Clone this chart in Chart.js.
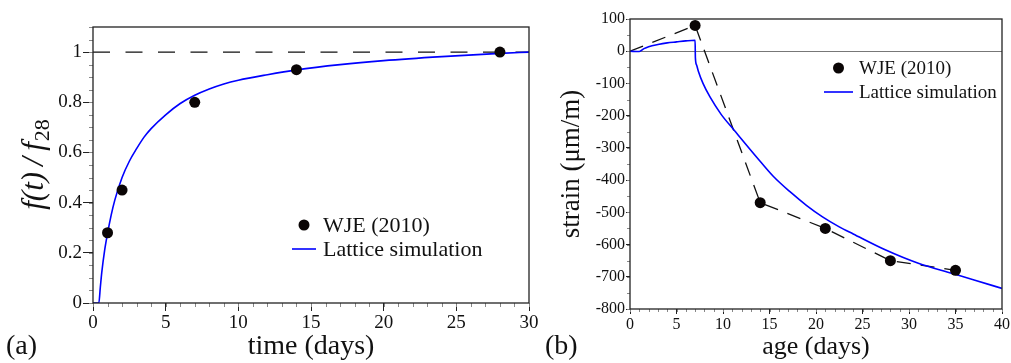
<!DOCTYPE html>
<html>
<head>
<meta charset="utf-8">
<script src="https://cdn.jsdelivr.net/npm/chart.js@4.4.1/dist/chart.umd.min.js"></script>
<style>
  body { margin: 0; background: #fff; }
  #wrap { position: relative; width: 1011px; height: 363px; }
  canvas { position: absolute; top: 0; }
  .tag { position: absolute; font: 28px "Liberation Serif", serif; color: #111; }
</style>
</head>
<body>
<div id="wrap">
  <canvas id="chartA" width="540" height="363" style="left:0"></canvas>
  <canvas id="chartB" width="471" height="363" style="left:540px"></canvas>
  <div class="tag" style="left:6px;top:329px">(a)</div>
  <div class="tag" style="left:545px;top:329px">(b)</div>
</div>
<script>
// (a) strength development
const timeDays = [0, 0.4, 0.5, 0.6, 0.8, 1, 1.25, 1.5, 2, 2.5, 3, 3.5, 4, 5, 6, 7, 8, 9, 10, 12, 14, 17, 20, 24, 28, 30];
const strengthRatio = [0, 0, 0.06, 0.12, 0.21, 0.277, 0.35, 0.41, 0.5, 0.565, 0.615, 0.66, 0.695, 0.75, 0.795, 0.828, 0.853, 0.873, 0.888, 0.91, 0.929, 0.95, 0.966, 0.982, 0.995, 1.0];
const wjeTime = [1, 2, 7, 14, 28];
const wjeRatio = [0.28, 0.45, 0.8, 0.93, 1.0];
const refTime = [0, 30];
const refRatio = [1, 1];

// (b) strain history
const simAge = [0, 1, 1.5, 2, 3, 4, 5, 6, 7, 7.03, 7.15, 7.35, 7.85, 8.6, 9.8, 11.2, 13.6, 15.4, 17.2, 19, 20.7, 22.5, 24, 27.5, 31, 34.7, 37, 40];
const simStrain = [0, -1, 8, 14, 21, 26, 29, 32, 34, -20, -42, -62, -100, -142, -196, -245, -328, -388, -436, -479, -514, -545, -567, -617, -658, -690, -710, -736];
const wjeAge = [7, 14, 21, 28, 35];
const wjeStrain = [80, -470, -550, -650, -680];
const dashAge = [0].concat(wjeAge);
const dashStrain = [0].concat(wjeStrain);

const serif = '"Liberation Serif", serif';
const pts = (xs, ys) => xs.map((x, i) => ({x: x, y: ys[i]}));

const framePlugin = {
  id: 'frame',
  afterDraw(chart) {
    const {ctx, chartArea: a} = chart;
    ctx.save();
    ctx.strokeStyle = '#222';
    ctx.lineWidth = 1.3;
    ctx.strokeRect(a.left, a.top, a.right - a.left, a.bottom - a.top);
    ctx.restore();
  }
};

const minorTicks = {
  id: 'minorTicks',
  afterDraw(chart, args, opts) {
    const {ctx, chartArea: a, scales} = chart;
    ctx.save();
    ctx.strokeStyle = '#888';
    ctx.lineWidth = 1;
    const xs = scales.x, ys = scales.y;
    const nx = Math.round((xs.max - xs.min) / opts.x);
    for (let i = 0; i <= nx; i++) {
      const px = Math.round(xs.getPixelForValue(xs.min + i * opts.x)) + 0.5;
      ctx.beginPath(); ctx.moveTo(px, a.bottom); ctx.lineTo(px, a.bottom + opts.len); ctx.stroke();
    }
    const ny = Math.round((ys.max - ys.min) / opts.y);
    for (let i = 0; i <= ny; i++) {
      const py = Math.round(ys.getPixelForValue(ys.min + i * opts.y)) + 0.5;
      ctx.beginPath(); ctx.moveTo(a.left, py); ctx.lineTo(a.left - opts.len, py); ctx.stroke();
    }
    ctx.restore();
  }
};

const insideLegend = {
  id: 'insideLegend',
  afterDraw(chart, args, opts) {
    if (!opts.items) return;
    const {ctx, chartArea: a} = chart;
    const x0 = a.left + opts.left;
    ctx.save();
    ctx.font = opts.font;
    ctx.textBaseline = 'middle';
    opts.items.forEach((idx, row) => {
      const ds = chart.data.datasets[idx];
      const y = a.top + opts.top + row * opts.rowGap;
      if (ds.showLine === false) {
        ctx.fillStyle = ds.backgroundColor;
        ctx.beginPath();
        ctx.arc(x0 + opts.symWidth / 2, y, ds.pointRadius, 0, Math.PI * 2);
        ctx.fill();
      } else {
        ctx.strokeStyle = ds.borderColor;
        ctx.lineWidth = ds.borderWidth;
        ctx.beginPath(); ctx.moveTo(x0, y); ctx.lineTo(x0 + opts.symWidth, y); ctx.stroke();
      }
      ctx.fillStyle = '#111';
      ctx.fillText(ds.label, x0 + opts.symWidth + opts.textGap, y + 1);
    });
    ctx.restore();
  }
};

const subTitle = {
  id: 'subTitle',
  afterDraw(chart, args, opts) {
    if (!opts.text) return;
    const {ctx, chartArea: a} = chart;
    ctx.save();
    ctx.translate(opts.x, (a.top + a.bottom) / 2);
    ctx.rotate(-Math.PI / 2);
    ctx.fillStyle = '#111';
    ctx.textBaseline = 'middle';
    ctx.font = 'italic ' + opts.size + 'px ' + serif;
    const w1 = ctx.measureText(opts.text).width;
    ctx.font = opts.subSize + 'px ' + serif;
    const w2 = ctx.measureText(opts.sub).width;
    const start = -(w1 + w2) / 2;
    ctx.font = 'italic ' + opts.size + 'px ' + serif;
    ctx.fillText(opts.text, start, 0);
    ctx.font = opts.subSize + 'px ' + serif;
    ctx.fillText(opts.sub, start + w1 + 1, opts.size * 0.28);
    ctx.restore();
  }
};

function axis(min, max, step, size, tickLen, fit, title) {
  return {
    type: 'linear', min: min, max: max,
    border: {display: false},
    grid: {drawOnChartArea: false, tickLength: tickLen, tickColor: '#222'},
    ticks: {
      stepSize: step, autoSkip: false, maxRotation: 0, padding: 1, color: '#111',
      font: {family: serif, size: size},
      callback: v => String(Number(v.toFixed(2)))
    },
    title: title,
    afterFit: fit
  };
}

const chartA = new Chart(document.getElementById('chartA'), {
  type: 'scatter',
  data: {
    datasets: [{
      label: 'WJE (2010)',
      data: pts(wjeTime, wjeRatio),
      showLine: false,
      pointRadius: 5.5,
      backgroundColor: '#0a0505',
      borderWidth: 0,
      order: 0
    }, {
      label: 'Lattice simulation',
      data: pts(timeDays, strengthRatio),
      showLine: true,
      borderColor: '#0000ff',
      borderWidth: 1.6,
      pointRadius: 0,
      cubicInterpolationMode: 'monotone',
      order: 1
    }, {
      label: 'reference',
      data: pts(refTime, refRatio),
      showLine: true,
      borderColor: '#111',
      borderWidth: 1.3,
      borderDash: [17, 15.5],
      pointRadius: 0,
      order: 2
    }]
  },
  options: {
    responsive: false,
    animation: false,
    layout: {padding: {left: 0, right: 11, top: 27, bottom: 0}},
    scales: {
      x: axis(0, 30, 5, 19, 8, s => { s.height = 60; },
        {display: true, text: 'time (days)', color: '#111', font: {family: serif, size: 28}, padding: {top: 0, bottom: 0}}),
      y: Object.assign(axis(0, 1.1, 0.2, 19, 10, s => { s.width = 93; }, {display: false}), {
        afterBuildTicks: s => { s.ticks = s.ticks.filter(t => t.value <= 1.0001); }
      })
    },
    plugins: {
      legend: {display: false},
      tooltip: {enabled: false},
      minorTicks: {x: 1, y: 0.05, len: 4},
      insideLegend: {items: [0, 1], left: 199, top: 198, rowGap: 24, symWidth: 24, textGap: 7, font: '22px ' + serif},
      subTitle: {text: 'f(t)\u2009/\u2009f', sub: '28', x: 35, size: 31, subSize: 22}
    }
  },
  plugins: [minorTicks, framePlugin, insideLegend, subTitle]
});

const chartB = new Chart(document.getElementById('chartB'), {
  type: 'scatter',
  data: {
    datasets: [{
      label: 'WJE (2010)',
      data: pts(wjeAge, wjeStrain),
      showLine: false,
      pointRadius: 5.5,
      backgroundColor: '#0a0505',
      borderWidth: 0,
      order: 0
    }, {
      label: 'Lattice simulation',
      data: pts(simAge, simStrain),
      showLine: true,
      borderColor: '#0000ff',
      borderWidth: 1.6,
      pointRadius: 0,
      cubicInterpolationMode: 'monotone',
      order: 1
    }, {
      label: 'WJE trend',
      data: pts(dashAge, dashStrain),
      showLine: true,
      borderColor: '#111',
      borderWidth: 1.3,
      borderDash: [14, 10],
      pointRadius: 0,
      order: 2
    }]
  },
  options: {
    responsive: false,
    animation: false,
    layout: {padding: {left: 0, right: 8, top: 19, bottom: 0}},
    scales: {
      x: axis(0, 40, 5, 16, 5, s => { s.height = 54; },
        {display: true, text: 'age (days)', color: '#111', font: {family: serif, size: 26}, padding: {top: 0, bottom: 0}}),
      y: Object.assign(axis(-800, 100, 100, 16, 4, s => { s.width = 90; },
        {display: true, text: 'strain (\u03bcm/m)', color: '#111', font: {family: serif, size: 27}, padding: {top: 16, bottom: 0}}), {
        grid: {
          drawOnChartArea: true, tickLength: 4, tickColor: '#222',
          color: c => (c.tick && c.tick.value === 0 ? '#777' : 'rgba(0,0,0,0)')
        }
      })
    },
    plugins: {
      legend: {display: false},
      tooltip: {enabled: false},
      minorTicks: {x: 1, y: 50, len: 3},
      insideLegend: {items: [0, 1], left: 194, top: 49, rowGap: 24, symWidth: 29, textGap: 6, font: '19px ' + serif}
    }
  },
  plugins: [minorTicks, framePlugin, insideLegend]
});
</script>
</body>
</html>
